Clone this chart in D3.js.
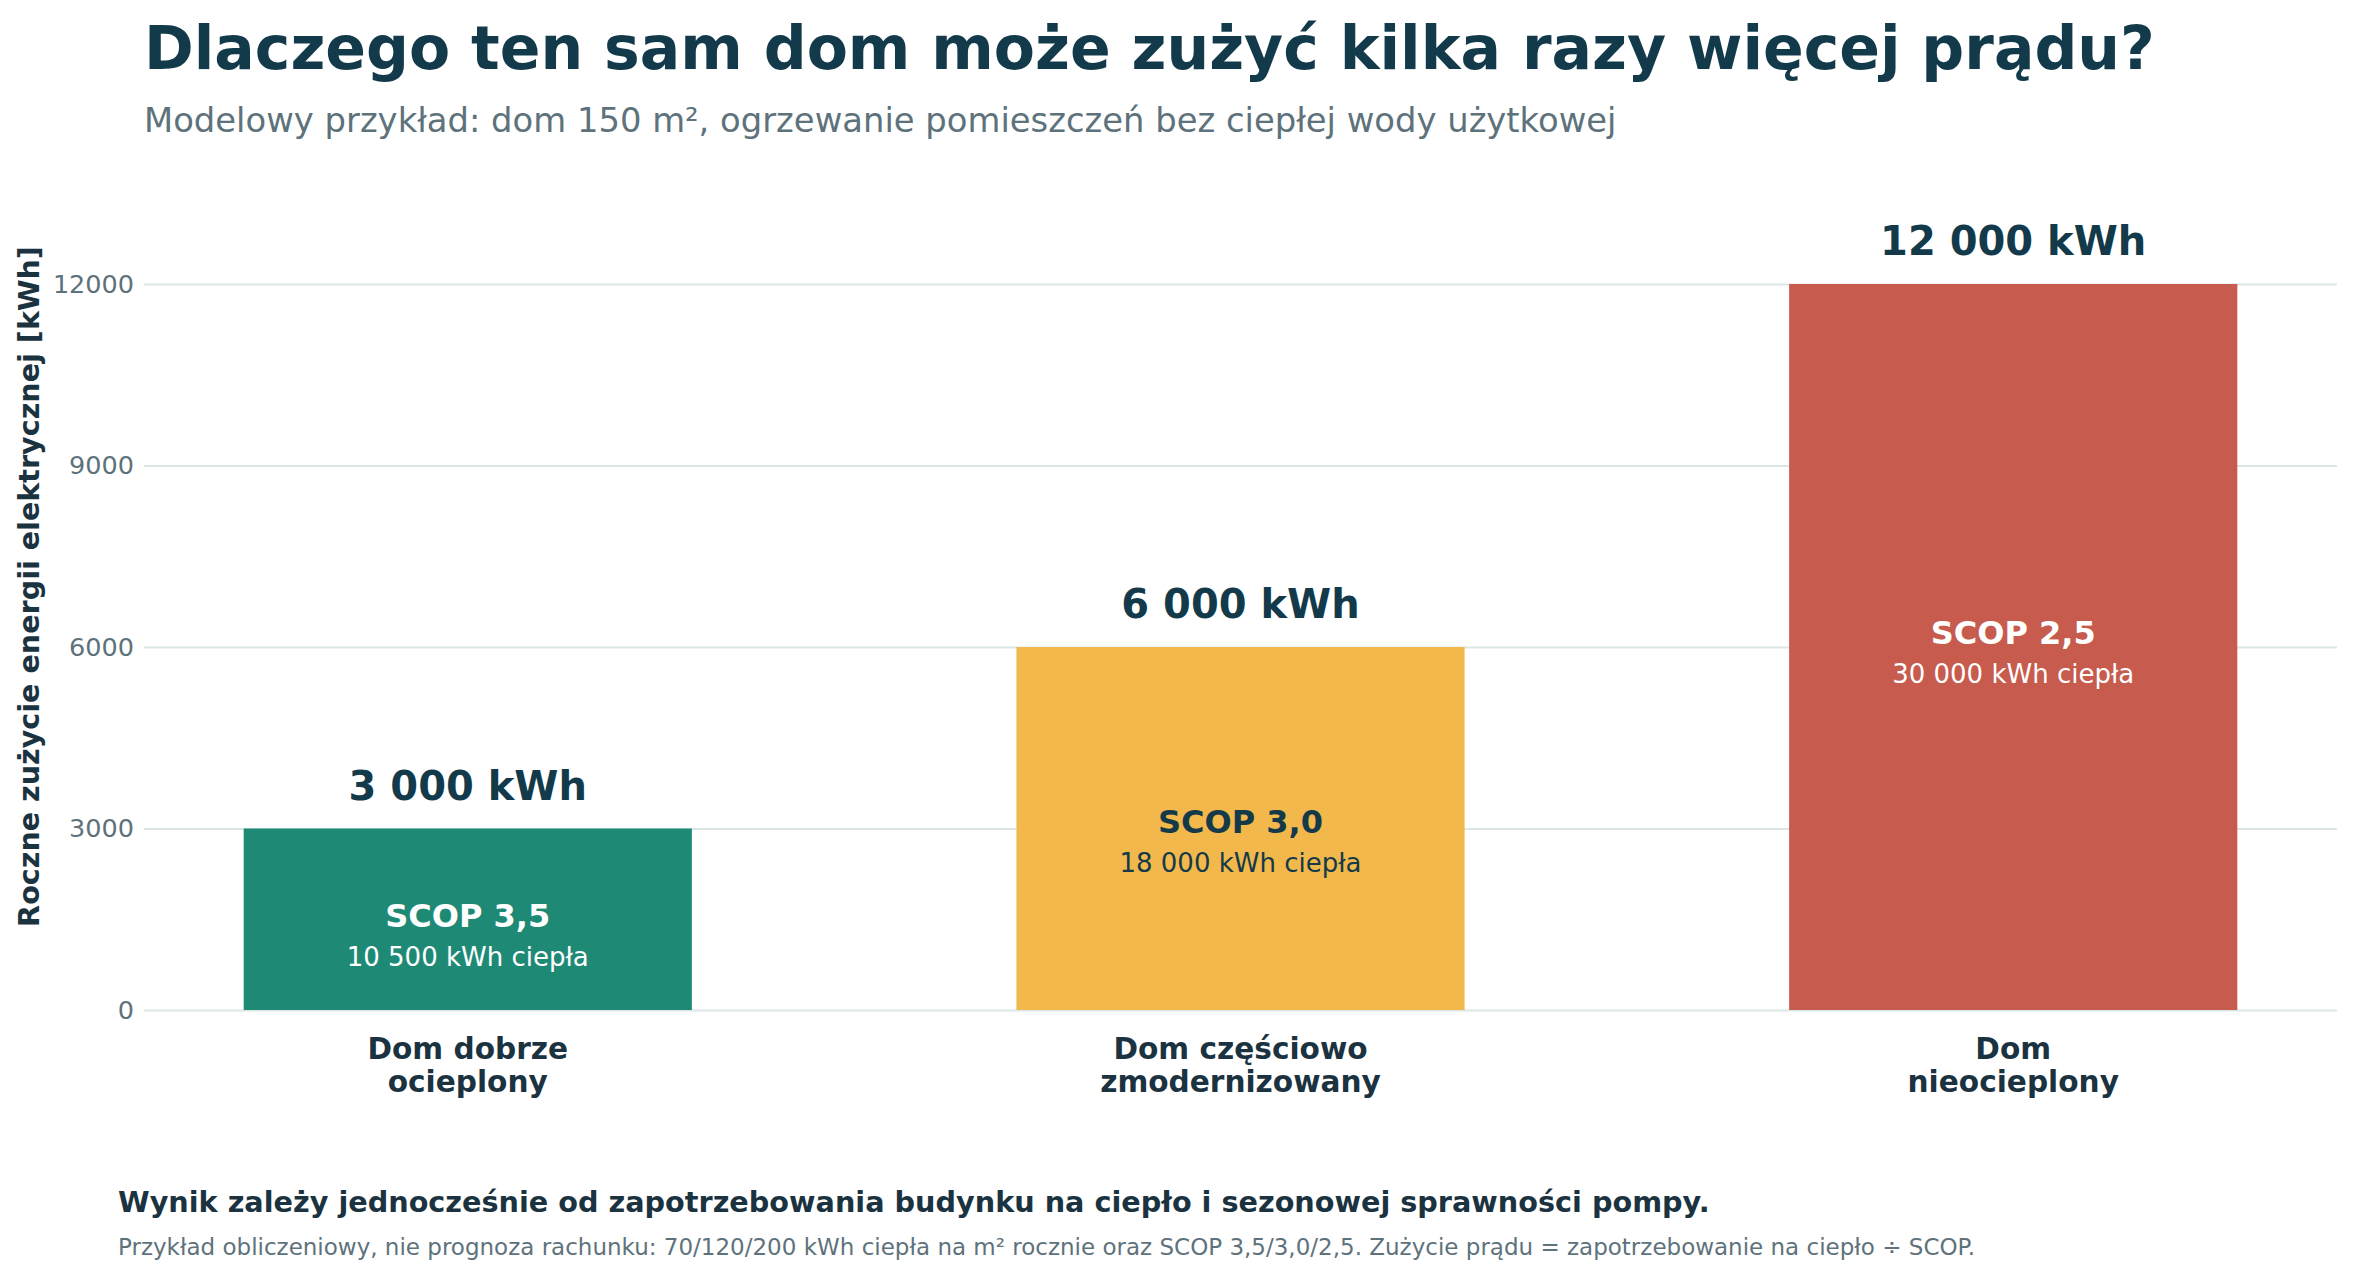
<!DOCTYPE html>
<html>
<head>
<meta charset="utf-8">
<script src="https://cdn.jsdelivr.net/npm/d3@7"></script>
<style>
  html, body { margin: 0; padding: 0; background: #ffffff; }
  svg { display: block; font-family: "DejaVu Sans", sans-serif; }
</style>
</head>
<body>
<svg id="chart" width="2354" height="1280"></svg>
<script>
// data
var categories = [["Dom dobrze", "ocieplony"], ["Dom częściowo", "zmodernizowany"], ["Dom", "nieocieplony"]];
var usage = [3000, 6000, 12000];
var usageLabels = ["3 000 kWh", "6 000 kWh", "12 000 kWh"];
var scopLabels = ["SCOP 3,5", "SCOP 3,0", "SCOP 2,5"];
var heatLabels = ["10 500 kWh ciepła", "18 000 kWh ciepła", "30 000 kWh ciepła"];
var barColors = ["#1e8a76", "#f2b84b", "#c75b4e"];
var innerTextColors = ["#ffffff", "#143a4a", "#ffffff"];
var yTicks = [0, 3000, 6000, 9000, 12000];

var dark = "#133a4a",
    grey = "#5e727c";

var svg = d3.select("#chart");

var plotLeft = 144, plotRight = 2337, plotBottom = 1010, plotTop = 163;

var x = d3.scaleBand()
    .domain(d3.range(usage.length))
    .range([plotLeft, plotRight])
    .paddingInner(0.42)
    .paddingOuter(0.129);

var y = d3.scaleLinear()
    .domain([0, 14000])
    .range([plotBottom, plotTop]);

// title + subtitle
svg.append("text")
    .attr("x", 144).attr("y", 69)
    .attr("fill", dark)
    .style("font-size", "60px").style("font-weight", "bold")
    .text("Dlaczego ten sam dom może zużyć kilka razy więcej prądu?");

svg.append("text")
    .attr("x", 144).attr("y", 132)
    .attr("fill", grey)
    .style("font-size", "33.8px")
    .text("Modelowy przykład: dom 150 m², ogrzewanie pomieszczeń bez ciepłej wody użytkowej");

// y axis with gridlines
var yAxis = svg.append("g")
    .attr("transform", "translate(" + plotLeft + ",0)")
    .call(d3.axisLeft(y)
        .tickValues(yTicks)
        .tickSizeInner(-(plotRight - plotLeft))
        .tickSizeOuter(0)
        .tickPadding(10)
        .tickFormat(d3.format("d")));

yAxis.select(".domain").remove();
yAxis.selectAll(".tick line")
    .attr("stroke", "#dce7e5")
    .attr("stroke-width", 2);
yAxis.selectAll(".tick text")
    .attr("fill", grey)
    .style("font-size", "25.5px")
    .style("font-family", "DejaVu Sans, sans-serif");

svg.append("text")
    .attr("transform", "translate(39," + ((plotBottom + plotTop) / 2) + ") rotate(-90)")
    .attr("text-anchor", "middle")
    .attr("fill", "#1b3340")
    .style("font-size", "28.6px").style("font-weight", "bold")
    .text("Roczne zużycie energii elektrycznej [kWh]");

// bars
var bars = svg.append("g").selectAll("g")
    .data(usage)
    .enter().append("g");

bars.append("rect")
    .attr("x", function(d, i) { return x(i); })
    .attr("y", function(d) { return y(d); })
    .attr("width", x.bandwidth())
    .attr("height", function(d) { return y(0) - y(d); })
    .attr("fill", function(d, i) { return barColors[i]; });

bars.append("text")
    .attr("x", function(d, i) { return x(i) + x.bandwidth() / 2; })
    .attr("y", function(d) { return y(d) - 29; })
    .attr("text-anchor", "middle")
    .attr("fill", dark)
    .style("font-size", "40px").style("font-weight", "bold")
    .text(function(d, i) { return usageLabels[i]; });

// inside labels sit slightly above the bar's middle
bars.append("text")
    .attr("x", function(d, i) { return x(i) + x.bandwidth() / 2; })
    .attr("y", function(d) { return y(d * 0.52) + 11.5; })
    .attr("text-anchor", "middle")
    .attr("fill", function(d, i) { return innerTextColors[i]; })
    .style("font-size", "32px").style("font-weight", "bold")
    .text(function(d, i) { return scopLabels[i]; });

bars.append("text")
    .attr("x", function(d, i) { return x(i) + x.bandwidth() / 2; })
    .attr("y", function(d) { return y(d * 0.52) + 50.5; })
    .attr("text-anchor", "middle")
    .attr("fill", function(d, i) { return innerTextColors[i]; })
    .style("font-size", "26px")
    .text(function(d, i) { return heatLabels[i]; });

// category labels
var cat = svg.append("g").selectAll("text")
    .data(categories)
    .enter().append("text")
    .attr("text-anchor", "middle")
    .attr("fill", "#1b3340")
    .style("font-size", "29.6px").style("font-weight", "bold");

cat.selectAll("tspan")
    .data(function(d, i) { return d.map(function(s) { return {s: s, i: i}; }); })
    .enter().append("tspan")
    .attr("x", function(d) { return x(d.i) + x.bandwidth() / 2; })
    .attr("y", function(d, j) { return 1059 + j * 33; })
    .text(function(d) { return d.s; });

// footer
svg.append("text")
    .attr("x", 118).attr("y", 1212)
    .attr("fill", "#1b3340")
    .style("font-size", "28.7px").style("font-weight", "bold")
    .text("Wynik zależy jednocześnie od zapotrzebowania budynku na ciepło i sezonowej sprawności pompy.");

svg.append("text")
    .attr("x", 118).attr("y", 1255)
    .attr("fill", grey)
    .style("font-size", "23px")
    .text("Przykład obliczeniowy, nie prognoza rachunku: 70/120/200 kWh ciepła na m² rocznie oraz SCOP 3,5/3,0/2,5. Zużycie prądu = zapotrzebowanie na ciepło ÷ SCOP.");
</script>
</body>
</html>
